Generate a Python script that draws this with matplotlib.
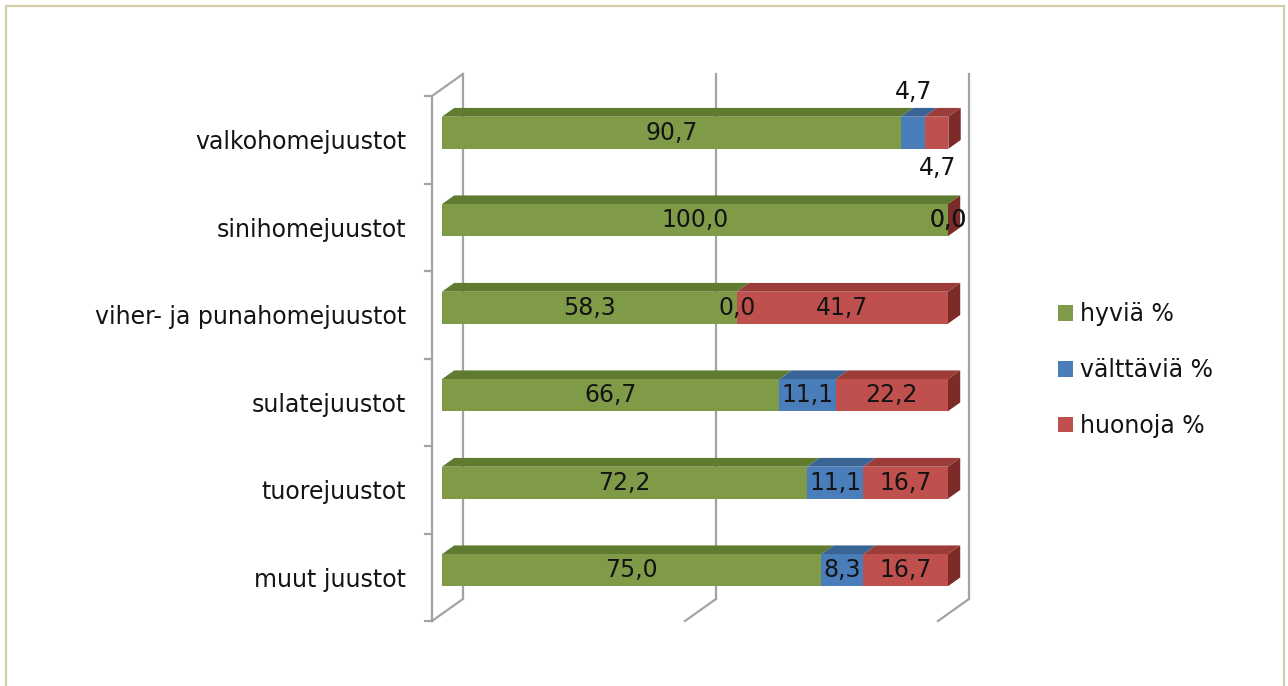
import matplotlib.pyplot as plt
from matplotlib.patches import Polygon, Rectangle

plt.rcParams["font.family"] = ["DejaVu Sans"]

# juustojen arviot (%)
categories = [
    "valkohomejuustot",
    "sinihomejuustot",
    "viher- ja punahomejuustot",
    "sulatejuustot",
    "tuorejuustot",
    "muut juustot",
]
hyvia = [90.7, 100.0, 58.3, 66.7, 72.2, 75.0]
valttavia = [4.7, 0.0, 0.0, 11.1, 11.1, 8.3]
huonoja = [4.7, 0.0, 41.7, 22.2, 16.7, 16.7]
series_names = ["hyviä %", "välttäviä %", "huonoja %"]
grid_values = [0, 50, 100]

front_cols = ["#7f9b48", "#4a7ebb", "#c0504d"]
top_cols = ["#5f7b30", "#3a6396", "#9c3c39"]
side_col = "#7d2b29"
grid_col = "#a3a3a3"
txt_col = "#141414"

# vino syvyysprojektio: takaseinä siirtyy oikealle ja ylös
DX, DY = 6.1, 0.251
D_FRONT, D_BACK = 0.32, 0.72
BAR_H = 0.366

fig = plt.figure(figsize=(12.88, 6.86), dpi=100)
ax = fig.add_axes([420 / 1288, 36 / 686, 580 / 1288, 610 / 686])
ax.set_xlim((420 - 432) / 5.06, (1000 - 432) / 5.06)
ax.set_ylim((646 - 135.75) / 87.5, (36 - 135.75) / 87.5)
for s in ax.spines.values():
    s.set_visible(False)
ax.set_xticks([])

n = len(categories)
ax.set_yticks(range(n))
ax.set_yticklabels(categories, fontsize=17, color=txt_col)
ax.tick_params(axis="y", length=0, pad=10)

# vasen seinä, ruudukko ja pohjan vinoviivat
y_lo, y_hi = -0.5, n - 0.5
lw = 1.6
ax.plot([0, 0], [y_lo, y_hi], color=grid_col, lw=lw, zorder=1)
ax.plot([0, DX], [y_lo, y_lo - DY], color=grid_col, lw=lw, zorder=1)
for b in range(n + 1):
    ax.plot([-1.4, 0], [b - 0.5, b - 0.5], color=grid_col, lw=lw, zorder=1)
for v in grid_values:
    ax.plot([v + DX, v + DX], [y_lo - DY, y_hi - DY], color=grid_col, lw=lw, zorder=1)
    ax.plot([v, v + DX], [y_hi, y_hi - DY], color=grid_col, lw=lw, zorder=1)

ox0, ox1 = D_FRONT * DX, D_BACK * DX
ddx, ddy = ox1 - ox0, (D_BACK - D_FRONT) * DY
series = [hyvia, valttavia, huonoja]
handles = []
for i in range(n):
    yc = i - D_FRONT * DY
    yt, yb = yc - BAR_H / 2, yc + BAR_H / 2
    left = 0.0
    for k, vals in enumerate(series):
        w = vals[i]
        x0, x1 = left + ox0, left + w + ox0
        top = Polygon(
            [(x0, yt), (x1, yt), (x1 + ddx, yt - ddy), (x0 + ddx, yt - ddy)],
            closed=True, facecolor=top_cols[k], edgecolor="none", zorder=3,
        )
        ax.add_patch(top)
        left += w
    # oikean pään sivupinta
    xe = left + ox0
    ax.add_patch(Polygon(
        [(xe, yt), (xe + ddx, yt - ddy), (xe + ddx, yb - ddy), (xe, yb)],
        closed=True, facecolor=side_col, edgecolor="none", zorder=3,
    ))

lefts = [0.0] * n
for k, vals in enumerate(series):
    cont = ax.barh(
        [i - D_FRONT * DY for i in range(n)], vals, left=[l + ox0 for l in lefts],
        height=BAR_H, color=front_cols[k], edgecolor="none", zorder=4,
        label=series_names[k],
    )
    handles.append(cont)
    for i in range(n):
        w = vals[i]
        cx = lefts[i] + w / 2 + ox0
        cy = i - D_FRONT * DY
        if 0 < w < 6:
            # kapeat osuudet: sininen yläpuolelle, punainen alapuolelle
            cy = cy - 0.47 if k == 1 else cy + 0.4
            cx = cx + 0.2
        ax.text(cx, cy, f"{w:.1f}".replace(".", ","), ha="center", va="center",
                fontsize=17, color=txt_col, zorder=6)
        lefts[i] += w

leg = fig.legend(
    handles=handles, labels=series_names, loc="center left",
    bbox_to_anchor=(1046 / 1288, (686 - 370) / 686), frameon=False,
    fontsize=17, handlelength=0.65, handleheight=0.65, handletextpad=0.3,
    labelspacing=1.35, borderpad=0,
)
for t in leg.get_texts():
    t.set_color(txt_col)

# kaavioalueen reunus
fig.patches.append(Rectangle(
    (6 / 1288, -0.05), 1278 / 1288, 1.05 - 6 / 686, transform=fig.transFigure,
    facecolor="none", edgecolor="#d2cfa8", lw=1.6,
))

fig.savefig("out.png", dpi=100)
